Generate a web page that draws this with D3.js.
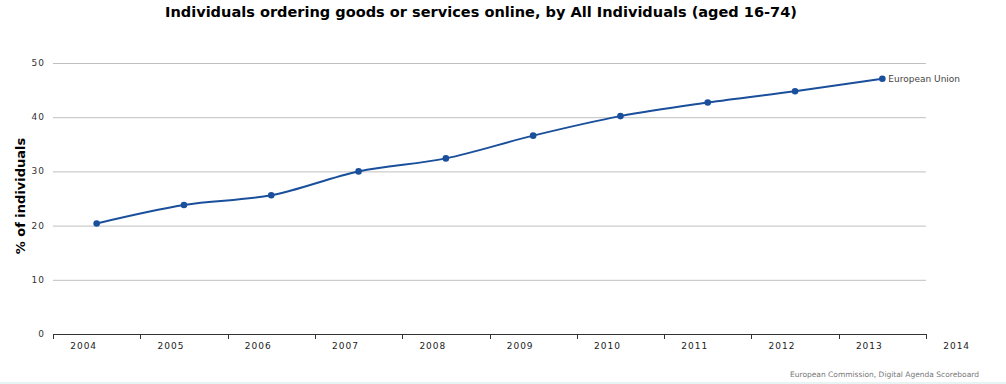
<!DOCTYPE html>
<html>
<head>
<meta charset="utf-8">
<script src="https://cdn.jsdelivr.net/npm/d3@7"></script>
<style>
  body { margin: 0; background: #fff; }
  svg { display: block; font-family: Verdana, "DejaVu Sans", sans-serif; }
</style>
</head>
<body>
<div id="chart"></div>
<script>
// data
var years = [2004, 2005, 2006, 2007, 2008, 2009, 2010, 2011, 2012, 2013];
var euValues = [20.4, 23.8, 25.6, 30.0, 32.4, 36.6, 40.2, 42.7, 44.8, 47.1];
var yTicks = [0, 10, 20, 30, 40, 50];
var xLabels = [2004, 2005, 2006, 2007, 2008, 2009, 2010, 2011, 2012, 2013, 2014];
var seriesName = "European Union";

var width = 1006, height = 384;
var svg = d3.select("#chart").append("svg")
    .attr("width", width).attr("height", height);

var x = d3.scaleLinear().domain([2003.5, 2013.5]).range([53, 926]);
var y = d3.scaleLinear().domain([0, 50]).range([334, 63]);

// title
svg.append("text")
    .attr("x", 481).attr("y", 17)
    .attr("text-anchor", "middle")
    .attr("font-size", 14).attr("font-weight", "bold")
    .attr("textLength", 632).attr("lengthAdjust", "spacingAndGlyphs")
    .attr("fill", "#000")
    .text("Individuals ordering goods or services online, by All Individuals (aged 16-74)");

// grid
svg.append("g").selectAll("line")
    .data(yTicks.filter(function(d) { return d > 0; }))
    .enter().append("line")
    .attr("x1", 53).attr("x2", 926)
    .attr("y1", function(d) { return y(d) + 0.5; })
    .attr("y2", function(d) { return y(d) + 0.5; })
    .attr("stroke", "#c0c0c0").attr("stroke-width", 1);

// y tick labels
svg.append("g").selectAll("text")
    .data(yTicks)
    .enter().append("text")
    .attr("x", 45)
    .attr("y", function(d) { return y(d) + 3; })
    .attr("text-anchor", "end")
    .attr("font-size", 9).attr("letter-spacing", 1)
    .attr("fill", "#333")
    .text(function(d) { return d; });

// y axis title
svg.append("text")
    .attr("transform", "translate(25,196) rotate(-90)")
    .attr("text-anchor", "middle")
    .attr("font-size", 13).attr("font-weight", "bold")
    .attr("fill", "#000")
    .text("% of individuals");

// x axis
var xAxis = svg.append("g").attr("transform", "translate(0,334)");
xAxis.append("line")
    .attr("x1", 53).attr("x2", 926).attr("y1", 0.5).attr("y2", 0.5)
    .attr("stroke", "#333").attr("stroke-width", 1);
xAxis.selectAll("line.tick")
    .data(d3.range(11).map(function(i) { return 2003.5 + i; }))
    .enter().append("line")
    .attr("class", "tick")
    .attr("x1", function(d) { return Math.round(x(d)) + 0.5; })
    .attr("x2", function(d) { return Math.round(x(d)) + 0.5; })
    .attr("y1", 0).attr("y2", 5)
    .attr("stroke", "#333");
xAxis.selectAll("text")
    .data(xLabels)
    .enter().append("text")
    .attr("x", function(d) { return x(d) - 13; })
    .attr("y", 15)
    .attr("text-anchor", "middle")
    .attr("font-size", 9).attr("letter-spacing", 1)
    .attr("fill", "#222")
    .text(function(d) { return d; });

// series
var pts = years.map(function(d, i) { return [x(d), y(euValues[i])]; });
svg.append("path")
    .attr("d", d3.line().curve(d3.curveMonotoneX)(pts))
    .attr("fill", "none")
    .attr("stroke", "#1a4f9c").attr("stroke-width", 2);
svg.append("g").selectAll("circle")
    .data(pts)
    .enter().append("circle")
    .attr("cx", function(d) { return d[0]; })
    .attr("cy", function(d) { return d[1]; })
    .attr("r", 3.3)
    .attr("fill", "#1a4f9c");

svg.append("text")
    .attr("x", pts[pts.length - 1][0] + 6)
    .attr("y", pts[pts.length - 1][1] + 3.5)
    .attr("font-size", 9)
    .attr("fill", "#444")
    .text(seriesName);

// credits and bottom rule
svg.append("text")
    .attr("x", 979).attr("y", 377)
    .attr("text-anchor", "end")
    .attr("font-size", 7.5)
    .attr("fill", "#777")
    .text("European Commission, Digital Agenda Scoreboard");
svg.append("rect")
    .attr("x", 0).attr("y", 382).attr("width", width).attr("height", 2)
    .attr("fill", "#e6f4f4");
</script>
</body>
</html>
